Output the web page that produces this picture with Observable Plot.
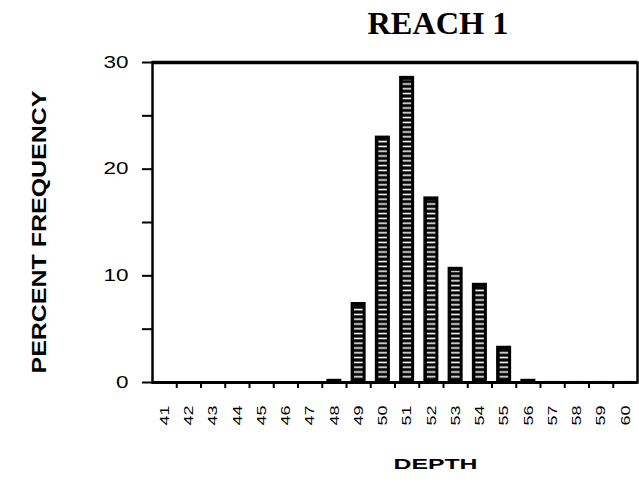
<!DOCTYPE html>
<html>
<head>
<meta charset="utf-8">
<script src="https://cdn.jsdelivr.net/npm/d3@7"></script>
<script src="https://cdn.jsdelivr.net/npm/@observablehq/plot@0.6"></script>
<style>
  html, body { margin: 0; padding: 0; background: #fff; }
</style>
</head>
<body>
<div id="chart"></div>
<script>
const title = "REACH 1";
const xTitle = "DEPTH";
const yTitle = "PERCENT FREQUENCY";
const depths = [41,42,43,44,45,46,47,48,49,50,51,52,53,54,55,56,57,58,59,60];
const percents = [0,0,0,0,0,0,0,0.3,7.5,23.1,28.7,17.4,10.8,9.3,3.4,0.3,0.1,0.1,0.1,0.1];
const yMajorTicks = [0,10,20,30];
const yMinorTicks = [5,15,25];

const data = depths.map((d, i) => ({depth: d, pct: percents[i]}));
const halfBar = 0.31;

const font = "'Liberation Sans', Arial, Helvetica, sans-serif";

const svg = Plot.plot({
  width: 639,
  height: 484,
  marginTop: 62,
  marginBottom: 102,
  marginLeft: 152,
  marginRight: 2,
  style: {fontFamily: font, color: "black", background: "white"},
  x: {type: "linear", domain: [40.5, 60.5]},
  y: {domain: [0, 30]},
  marks: [
    Plot.rectY(data, {x1: d => d.depth - halfBar, x2: d => d.depth + halfBar, y: "pct", fill: "black"}),
    Plot.rectY(data.filter(d => d.pct > 1), {
      x1: d => d.depth - halfBar, x2: d => d.depth + halfBar, y: "pct",
      fill: "url(#hatch)", insetLeft: 3.5, insetRight: 3, insetTop: 4, insetBottom: 2
    }),
    // x tick labels centred on each depth bin
    Plot.axisX({ticks: depths, tickSize: 0, tickPadding: 23, tickRotate: -90, tickFormat: d => String(d), fontSize: 13, label: null}),
    // x tick marks at bin boundaries
    Plot.axisX({ticks: depths.slice(0, -1).map(d => d + 0.5), tickSize: 6, strokeWidth: 2, tickFormat: () => "", label: null}),
    Plot.axisY({ticks: yMajorTicks, tickSize: 10, tickPadding: 14, strokeWidth: 2, fontSize: 16.5, label: null}),
    Plot.axisY({ticks: yMinorTicks, tickSize: 10, strokeWidth: 2, tickFormat: () => "", label: null}),
    Plot.frame({stroke: "black", strokeWidth: 2.5}),
    Plot.ruleY([30], {stroke: "black", strokeWidth: 3.5}),
    Plot.ruleY([0], {stroke: "black", strokeWidth: 3}),
    Plot.text([title], {
      frameAnchor: "top", dx: 43, dy: -29, lineAnchor: "bottom", textAnchor: "middle",
      fontFamily: "'Liberation Serif', 'Times New Roman', serif",
      fontWeight: "bold", fontSize: 32
    }),
    Plot.text([yTitle], {
      frameAnchor: "left", rotate: -90, dx: -107, dy: 9.5,
      textAnchor: "middle", lineAnchor: "bottom",
      fontWeight: "bold", fontSize: 20
    }),
    Plot.text([xTitle], {
      frameAnchor: "bottom", dx: 40.5, dy: 86, lineAnchor: "bottom", textAnchor: "middle",
      fontWeight: "bold", fontSize: 15
    })
  ]
});

d3.select(svg).insert("defs", ":first-child").html(
  '<pattern id="hatch" patternUnits="userSpaceOnUse" width="20" height="4.8">' +
  '<rect width="20" height="4.8" fill="black"></rect>' +
  '<rect y="1.6" width="20" height="1.6" fill="white"></rect>' +
  '</pattern>'
);

// stretch texts to the widths they take in the reference
const stretch = {[title]: 141, [xTitle]: 84, [yTitle]: 283};
d3.select(svg).selectAll("text").each(function() {
  const t = this.textContent;
  if (stretch[t]) {
    d3.select(this).attr("textLength", stretch[t]).attr("lengthAdjust", "spacingAndGlyphs");
  }
});
d3.select(svg).selectAll('g[aria-label="x-axis tick label"] text').each(function() {
  const t = this.textContent;
  if (t) d3.select(this).attr("textLength", 10 * t.length).attr("lengthAdjust", "spacingAndGlyphs");
});
d3.select(svg).selectAll('g[aria-label="y-axis tick label"] text').each(function() {
  const t = this.textContent;
  if (t) d3.select(this).attr("textLength", 12.5 * t.length).attr("lengthAdjust", "spacingAndGlyphs");
});

document.getElementById("chart").appendChild(svg);
</script>
</body>
</html>
